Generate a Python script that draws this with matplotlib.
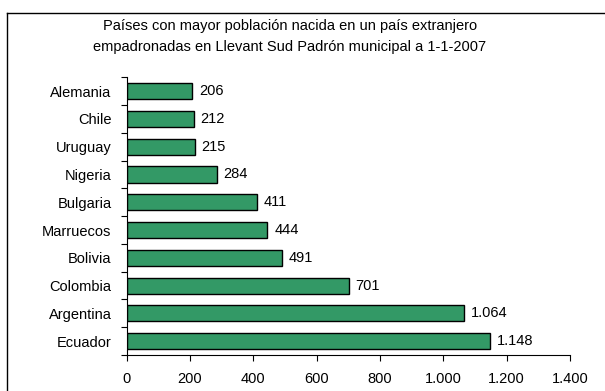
import matplotlib.pyplot as plt
from matplotlib.lines import Line2D
import numpy as np

plt.rcParams['font.family'] = ['Liberation Sans', 'DejaVu Sans']

# datos (de arriba a abajo)
paises = ["Alemania", "Chile", "Uruguay", "Nigeria", "Bulgaria",
          "Marruecos", "Bolivia", "Colombia", "Argentina", "Ecuador"]
valores = [206, 212, 215, 284, 411, 444, 491, 701, 1064, 1148]
xticks = [0, 200, 400, 600, 800, 1000, 1200, 1400]

titulo = ("Países con mayor población nacida en un país extranjero\n"
          "empadronadas en Llevant Sud Padrón municipal a 1-1-2007")


def fmt(v):
    # separador de miles con punto
    return "{:,}".format(v).replace(",", ".")


fig = plt.figure(figsize=(6.05, 3.91), dpi=100)
ax = fig.add_axes([0.2094, 0.0921, 0.942 - 0.2094, 0.8023 - 0.0921])

y = np.arange(len(paises))
ax.barh(y, valores, height=0.58, color="#339966", edgecolor="black", linewidth=1.0)
ax.set_ylim(len(paises) - 0.5, -0.5)
ax.set_xlim(0, 1400)

for yi, v in zip(y, valores):
    ax.annotate(fmt(v), (v, yi), xytext=(5, 0), textcoords="offset points",
                va="center", ha="left", fontsize=10.5)

ax.set_yticks(y)
ax.set_yticklabels(paises, fontsize=10.5)
ax.set_yticks(np.arange(len(paises) + 1) - 0.5, minor=True)
ax.tick_params(axis="y", which="major", length=0, pad=11)
ax.tick_params(axis="y", which="minor", length=4, width=0.8, direction="out")

ax.set_xticks(xticks)
ax.set_xticklabels([fmt(t) for t in xticks], fontsize=10.5)
ax.tick_params(axis="x", length=4, width=0.8, direction="out", pad=8)

for s in ["top", "right"]:
    ax.spines[s].set_visible(False)
ax.spines["left"].set_linewidth(0.8)
ax.spines["bottom"].set_linewidth(0.8)

fig.text(0.479, 0.907, titulo, ha="center", va="center", fontsize=10.5, linespacing=1.6)

# marco exterior del grafico
W, H = 605.0, 391.0
fig.add_artist(Line2D([7 / W, 1], [1 - 13 / H, 1 - 13 / H], color="black", linewidth=1.0))
fig.add_artist(Line2D([7 / W, 7 / W], [0, 1 - 13 / H], color="black", linewidth=1.0))

plt.savefig("out.png", dpi=100)
